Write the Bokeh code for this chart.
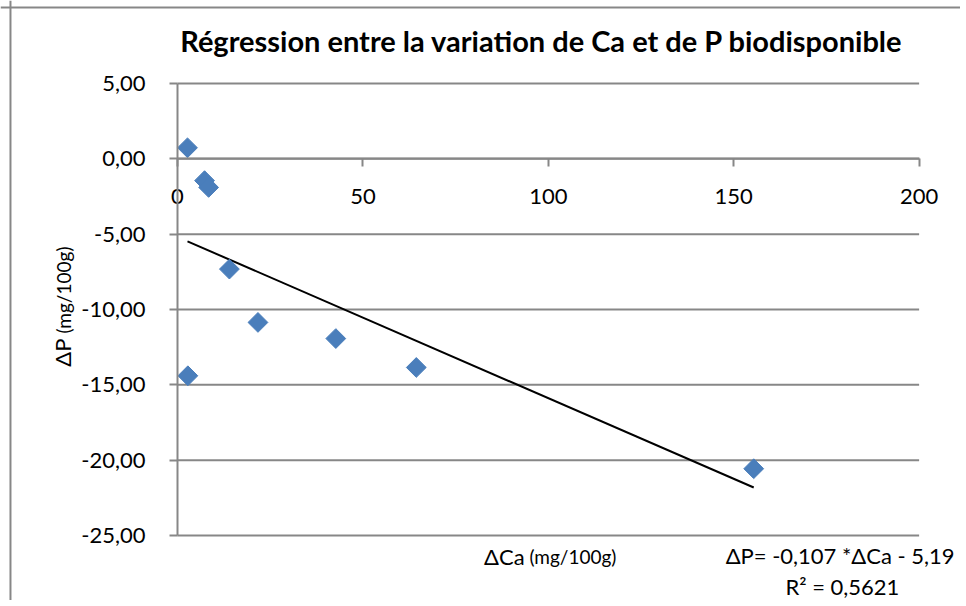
import math
from bokeh.plotting import figure
from bokeh.models import Label, Range1d, FixedTicker, LinearAxis, Grid, Span
from bokeh.embed import file_html
from bokeh.resources import INLINE

# ---- data ----
delta_ca = [2.7, 7.3, 8.4, 14.0, 21.7, 42.7, 2.8, 64.4, 155.4]
delta_p = [0.73, -1.45, -1.9, -7.32, -10.86, -11.93, -14.4, -13.85, -20.57]
slope = -0.107
intercept = -5.19
r_squared = "0,5621"
x_ticks = [0, 50, 100, 150, 200]
x_tick_labels = ["0", "50", "100", "150", "200"]
y_ticks = [5, 0, -5, -10, -15, -20, -25]
y_tick_labels = ["5,00", "0,00", "-5,00", "-10,00", "-15,00", "-20,00", "-25,00"]
title_text = "Régression entre la variation de Ca et de P biodisponible"

FONT = "Lato"
GRID = "#878787"
BLUE = "#4A7EBB"

p = figure(width=960, height=600, output_backend="svg", toolbar_location=None,
           x_range=Range1d(-47.73, 211.16), y_range=Range1d(-29.316, 10.506),
           x_axis_location=None, y_axis_location=None,
           min_border=0, min_border_left=0, min_border_right=0,
           min_border_top=0, min_border_bottom=0)
p.center = [r for r in p.center if not isinstance(r, Grid)]
p.outline_line_color = None
p.background_fill_color = "white"
p.border_fill_color = "white"

# chart-area border (top and left visible)
p.add_layout(Span(location=-45.04, dimension="height", line_color=GRID, line_width=2))
p.add_layout(Span(location=10.04, dimension="width", line_color=GRID, line_width=2))

# horizontal gridlines across the x span
n = len(y_ticks)
p.segment(x0=[x_ticks[0]] * n, x1=[x_ticks[-1]] * n, y0=y_ticks, y1=y_ticks,
          line_color=GRID, line_width=2)

# axes crossing at 0
xaxis = LinearAxis(fixed_location=0, bounds=(0, 200), ticker=FixedTicker(ticks=x_ticks),
                   major_label_overrides=dict(zip(x_ticks, x_tick_labels)))
yaxis = LinearAxis(fixed_location=0, bounds=(-25, 5), ticker=FixedTicker(ticks=y_ticks),
                   major_label_overrides=dict(zip(y_ticks, y_tick_labels)))
for ax in (xaxis, yaxis):
    ax.axis_line_color = GRID
    ax.axis_line_width = 2
    ax.major_tick_line_color = GRID
    ax.major_tick_line_width = 2
    ax.major_tick_out = 8
    ax.major_tick_in = 0
    ax.minor_tick_line_color = None
    ax.major_label_text_font = FONT
    ax.major_label_text_font_size = "22px"
    ax.major_label_text_color = "black"
xaxis.major_label_standoff = 22
yaxis.major_label_standoff = 24
p.add_layout(xaxis, "below")
p.add_layout(yaxis, "left")

# regression line over data range
x0, x1 = min(delta_ca), max(delta_ca)
p.line([x0, x1], [slope * x0 + intercept, slope * x1 + intercept], line_color="black", line_width=2)

# points
p.scatter(delta_ca, delta_p, marker="square", size=14, angle=math.pi / 4,
          fill_color=BLUE, line_color=BLUE, line_width=1)

# texts
def lab(**kw):
    kw.setdefault("text_font", FONT)
    kw.setdefault("text_color", "black")
    kw.setdefault("text_baseline", "middle")
    p.add_layout(Label(**kw))

lab(x=98.2, y=7.85, text=title_text, text_font_style="bold", text_font_size="29px", text_align="center")
lab(x=-31.0, y=-11.93, text="ΔP", text_font_size="22px", angle=math.pi / 2, text_align="right")
lab(x=-30.8, y=-11.6, text="(mg/100g)", text_font_size="19px", angle=math.pi / 2, text_align="left")
lab(x=93.6, y=-26.4, text="ΔCa", text_font_size="22px", text_align="right")
lab(x=94.9, y=-26.4, text="(mg/100g)", text_font_size="19px", text_align="left")
lab(x=179.3, y=-26.33, text="ΔP= -0,107 *ΔCa  - 5,19", text_font_size="22px", text_align="center")
lab(x=179.3, y=-28.4, text="R² = " + r_squared, text_font_size="22px", text_align="center")

open("out.html", "w").write(file_html(p, INLINE))
